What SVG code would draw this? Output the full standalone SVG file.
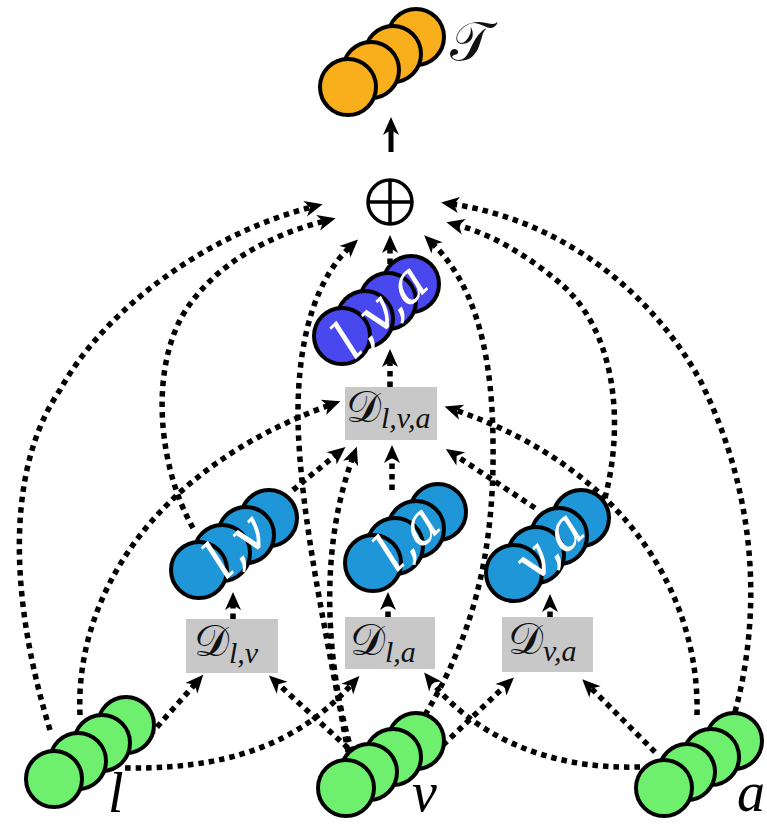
<svg xmlns="http://www.w3.org/2000/svg" width="767" height="826" viewBox="0 0 767 826">
<style>
.dot{fill:none;stroke:#000;stroke-width:5.5;stroke-dasharray:5.5 5;marker-end:url(#ah)}
.solid{fill:none;stroke:#000;stroke-width:5;marker-end:url(#ah)}
circle.c{stroke:#000;stroke-width:4}
.or{fill:#F9AE1B}.bl{fill:#4848EE}.cy{fill:#1E96D7}.gr{fill:#6EF06E}
.box{fill:#C8C8C8}
.dl{font-family:"DejaVu Serif","Liberation Serif",serif;font-size:44px;fill:#111}
.sub{font-family:"Liberation Serif","DejaVu Serif",serif;font-style:italic;font-size:30px}
.lab{font-family:"Liberation Serif","DejaVu Serif",serif;font-style:italic;font-size:56px;fill:#000}
.in{font-family:"DejaVu Serif","Liberation Serif",serif;font-style:italic;font-size:54px;fill:#fff;text-anchor:middle;dominant-baseline:central}
</style>
<defs>
<marker id="ah" markerUnits="userSpaceOnUse" viewBox="-10 -10 26 20" markerWidth="26" markerHeight="20" refX="0" refY="0" orient="auto">
<path d="M11,0 L-7,-8 L-2,0 L-7,8 Z" fill="#000"/>
</marker>
</defs>
<g id="connectors">
<path class="solid" d="M391,152 L391,128"/>
<path class="dot" d="M390,264 L390,246"/>
<path class="dot" d="M50,730 C10,600 5,470 60,390 C110,300 220,230 312,207"/>
<path class="dot" d="M193,528 C160,470 150,380 180,320 C210,265 270,235 325,221"/>
<path class="dot" d="M348,752 C330,650 300,520 298,420 C297,330 320,275 350,247"/>
<path class="dot" d="M425,715 C470,640 495,560 493,440 C492,340 470,280 432,243"/>
<path class="dot" d="M605,498 C625,420 615,330 560,283 C530,258 495,235 457,225"/>
<path class="dot" d="M735,712 C760,620 760,500 700,380 C650,290 560,220 452,204"/>
<path class="dot" d="M390,387 L390,360"/>
<path class="dot" d="M392,490 L392,456"/>
<path class="dot" d="M233,619 L233,603"/>
<path class="dot" d="M388,617 L388,603"/>
<path class="dot" d="M550,617 L550,605"/>
<path class="dot" d="M80,715 C75,600 150,470 330,405"/>
<path class="dot" d="M697,715 C700,600 630,470 455,410"/>
<path class="dot" d="M293,490 L337,454"/>
<path class="dot" d="M352,752 C330,680 315,560 353,457"/>
<path class="dot" d="M535,508 L455,455"/>
<path class="dot" d="M150,735 L196,683"/>
<path class="dot" d="M348,748 L277,683"/>
<path class="dot" d="M125,768 C250,770 310,730 352,684"/>
<path class="dot" d="M640,767 C540,770 470,730 431,681"/>
<path class="dot" d="M443,745 L506,685"/>
<path class="dot" d="M655,752 L590,687"/>
</g>
<g id="node-T">
<circle class="c or" cx="416" cy="37" r="28"/>
<circle class="c or" cx="393" cy="54" r="28"/>
<circle class="c or" cx="371" cy="70" r="28"/>
<circle class="c or" cx="348" cy="87" r="28"/>
<text class="dl" x="450" y="60" style="font-size:54px">𝒯</text>
</g>
<g id="node-oplus">
<circle cx="390" cy="202" r="22" fill="#fff" stroke="#000" stroke-width="3.5"/>
<path d="M368,202 H412 M390,180 V224" stroke="#000" stroke-width="3.5"/>
</g>
<g id="node-lva">
<circle class="c bl" cx="411" cy="284" r="28"/>
<circle class="c bl" cx="388" cy="301" r="28"/>
<circle class="c bl" cx="365" cy="319" r="28"/>
<circle class="c bl" cx="342" cy="336" r="28"/>
<text class="in" transform="translate(380,310) rotate(-44)">l,v,a</text>
</g>
<g id="node-Dlva">
<rect class="box" x="345" y="387" width="92" height="53"/>
<text class="dl" x="346" y="422">𝒟<tspan class="sub" dy="6">l,v,a</tspan></text>
</g>
<g id="node-lv">
<circle class="c cy" cx="269" cy="518" r="28"/>
<circle class="c cy" cx="246" cy="535" r="28"/>
<circle class="c cy" cx="222" cy="553" r="28"/>
<circle class="c cy" cx="199" cy="570" r="28"/>
<text class="in" transform="translate(236,545) rotate(-44)">l,v</text>
</g>
<g id="node-la">
<circle class="c cy" cx="438" cy="512" r="28"/>
<circle class="c cy" cx="416" cy="529" r="28"/>
<circle class="c cy" cx="395" cy="546" r="28"/>
<circle class="c cy" cx="373" cy="563" r="28"/>
<text class="in" transform="translate(407,537) rotate(-44)">l,a</text>
</g>
<g id="node-va">
<circle class="c cy" cx="581" cy="518" r="28"/>
<circle class="c cy" cx="559" cy="536" r="28"/>
<circle class="c cy" cx="536" cy="555" r="28"/>
<circle class="c cy" cx="514" cy="573" r="28"/>
<text class="in" transform="translate(549,545) rotate(-44)">v,a</text>
</g>
<g id="node-Dlv">
<rect class="box" x="186" y="619" width="92" height="54"/>
<text class="dl" x="194" y="656">𝒟<tspan class="sub" dy="7">l,v</tspan></text>
</g>
<g id="node-Dla">
<rect class="box" x="345" y="617" width="90" height="52"/>
<text class="dl" x="350" y="655">𝒟<tspan class="sub" dy="7">l,a</tspan></text>
</g>
<g id="node-Dva">
<rect class="box" x="502" y="617" width="91" height="55"/>
<text class="dl" x="508" y="654">𝒟<tspan class="sub" dy="7">v,a</tspan></text>
</g>
<g id="node-l">
<circle class="c gr" cx="126" cy="725" r="28"/>
<circle class="c gr" cx="102" cy="743" r="28"/>
<circle class="c gr" cx="78" cy="761" r="28"/>
<circle class="c gr" cx="54" cy="779" r="28"/>
<text class="lab" x="108" y="812">l</text>
</g>
<g id="node-v">
<circle class="c gr" cx="416" cy="741" r="28"/>
<circle class="c gr" cx="393" cy="757" r="28"/>
<circle class="c gr" cx="369" cy="772" r="28"/>
<circle class="c gr" cx="346" cy="788" r="28"/>
<text class="lab" x="412" y="811">v</text>
</g>
<g id="node-a">
<circle class="c gr" cx="734" cy="741" r="28"/>
<circle class="c gr" cx="711" cy="757" r="28"/>
<circle class="c gr" cx="687" cy="772" r="28"/>
<circle class="c gr" cx="664" cy="788" r="28"/>
<text class="lab" x="737" y="811">a</text>
</g>
</svg>
